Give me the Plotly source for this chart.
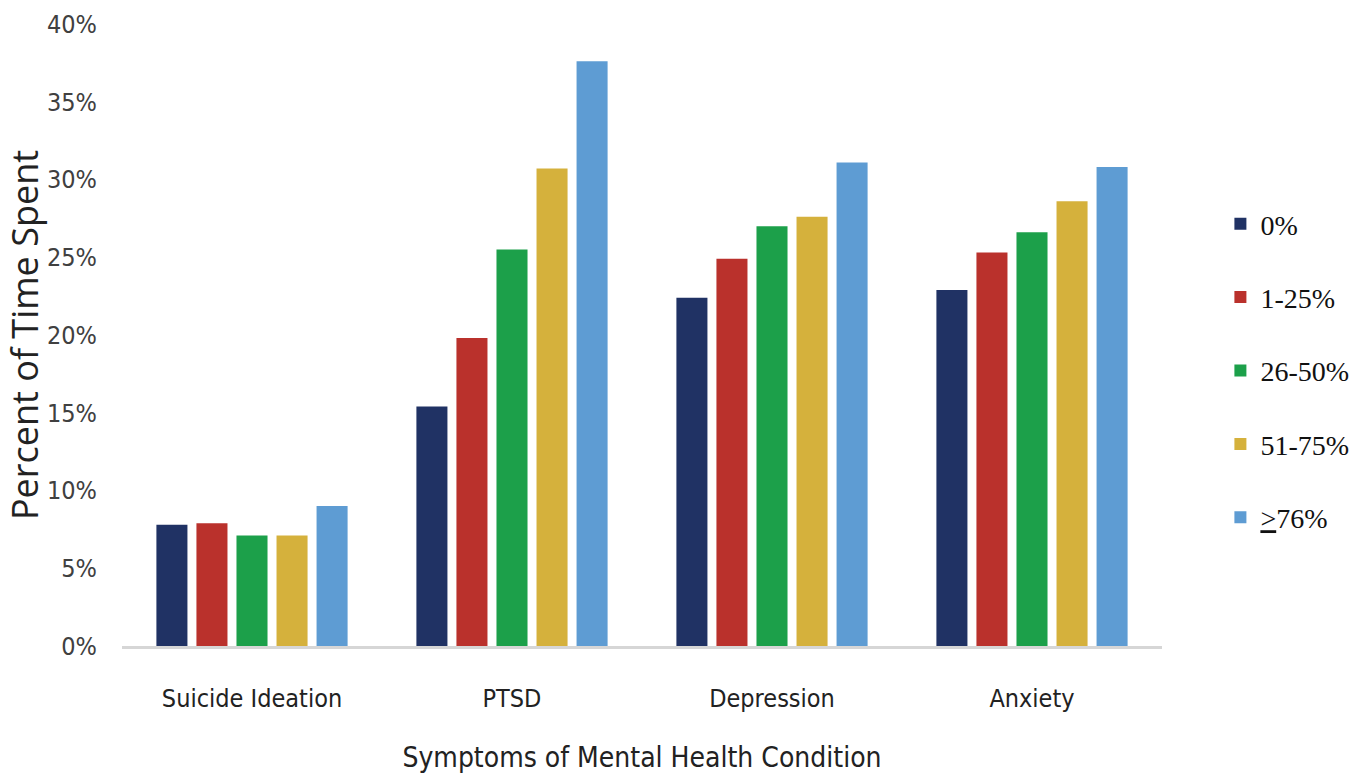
import plotly.graph_objects as go

# Share of time spent, by symptom category and exposure band
categories = ["Suicide Ideation", "PTSD", "Depression", "Anxiety"]
series_names = ["0%", "1-25%", "26-50%", "51-75%", "≥76%"]
legend_labels = ["0%", "1-25%", "26-50%", "51-75%", "<u>></u>76%"]

vals_0 = [7.8, 15.4, 22.4, 22.9]
vals_1_25 = [7.9, 19.8, 24.9, 25.3]
vals_26_50 = [7.1, 25.5, 27.0, 26.6]
vals_51_75 = [7.1, 30.7, 27.6, 28.6]
vals_76 = [9.0, 37.6, 31.1, 30.8]

y_ticks = [0, 5, 10, 15, 20, 25, 30, 35, 40]
y_tick_text = [f"{t}%" for t in y_ticks]

colors = ["#203264", "#BA312C", "#1CA04A", "#D5B13C", "#5E9CD3"]
all_vals = [vals_0, vals_1_25, vals_26_50, vals_51_75, vals_76]

narrow = "DejaVu Sans Condensed, Open Sans, sans-serif"
serif = "Liberation Serif, Times New Roman, serif"

fig = go.Figure()
for name, label, vals, col in zip(series_names, legend_labels, all_vals, colors):
    fig.add_trace(go.Bar(
        x=categories, y=vals, name=label, legendgroup=name,
        marker=dict(color=col, line=dict(width=0)),
        hovertemplate=name + ": %{y:.1f}%<extra>%{x}</extra>",
    ))

fig.update_layout(
    width=1356, height=780,
    margin=dict(l=122, r=194, t=24, b=134, autoexpand=False),
    paper_bgcolor="white", plot_bgcolor="white",
    barmode="group", bargap=0.23, bargroupgap=0.225,
    legend=dict(
        xref="container", yref="container",
        x=0.900, y=0.525, xanchor="left", yanchor="middle",
        font=dict(family=serif, size=28, color="#111111"),
        traceorder="grouped", tracegroupgap=34,
        itemwidth=30,
    ),
    showlegend=True,
)

fig.update_xaxes(
    automargin=False,
    showline=True, linecolor="#D6D6D6", linewidth=3,
    ticks="outside", ticklen=28, tickcolor="rgba(0,0,0,0)",
    tickfont=dict(family=narrow, size=25, color="#222222"),
    title=dict(text="Symptoms of Mental Health Condition",
               font=dict(family=narrow, size=28, color="#222222"),
               standoff=36),
    showgrid=False,
)

fig.update_yaxes(
    automargin=False,
    range=[0, 40], tickvals=y_ticks, ticktext=y_tick_text,
    showline=False, showgrid=False, zeroline=False,
    ticks="outside", ticklen=19, tickcolor="rgba(0,0,0,0)",
    tickfont=dict(family=narrow, size=25, color="#404040"),
    title=dict(text="Percent of Time Spent",
               font=dict(family="Open Sans, sans-serif", size=36, color="#222222"),
               standoff=14),
)

fig.write_html("out.html")
